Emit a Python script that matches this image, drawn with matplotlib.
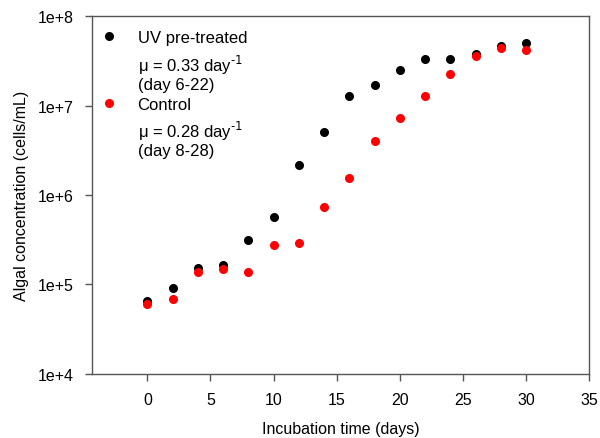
import numpy as np
from matplotlib import pyplot as plt
from matplotlib.ticker import FuncFormatter, NullLocator

plt.rcParams['font.family'] = ['Liberation Sans', 'DejaVu Sans']

days = [0, 2, 4, 6, 8, 10, 12, 14, 16, 18, 20, 22, 24, 26, 28, 30]
uv_treated = [6.5e4, 9.1e4, 1.54e5, 1.67e5, 3.12e5, 5.7e5, 2.15e6, 5.1e6,
              1.29e7, 1.71e7, 2.5e7, 3.33e7, 3.28e7, 3.73e7, 4.67e7, 5.03e7]
control = [6.1e4, 6.9e4, 1.37e5, 1.49e5, 1.39e5, 2.79e5, 2.88e5, 7.4e5,
           1.56e6, 4.0e6, 7.3e6, 1.29e7, 2.25e7, 3.57e7, 4.43e7, 4.14e7]
notes = ['μ = 0.33 day$^{\\text{-1}}$\n(day 6-22)', 'μ = 0.28 day$^{\\text{-1}}$\n(day 8-28)']

fig = plt.figure(figsize=(6, 4.39), dpi=100)
ax = fig.add_axes([0.153, 0.146, 0.829, 0.815])

ax.plot(days, uv_treated, 'o', color='black', ms=5.5, label='UV pre-treated')
ax.plot(days, control, 'o', color='red', ms=5.5, label='Control')

ax.set_yscale('log')
ax.set_ylim(1e4, 1e8)
ax.set_xlim(-4.4, 35)
ax.set_xticks(np.arange(0, 36, 5))
ax.yaxis.set_minor_locator(NullLocator())
ax.yaxis.set_major_formatter(FuncFormatter(lambda v, p: f"1e+{int(round(np.log10(v)))}"))

for s in ax.spines.values():
    s.set_color('#555555')
    s.set_linewidth(1.0)
ax.tick_params(direction='out', length=5, width=1, color='#555555', labelsize=11.5, pad=8)

ax.set_xlabel('Incubation time (days)', fontsize=11.5, labelpad=10)
ax.set_ylabel('Algal concentration (cells/mL)', fontsize=11.5, labelpad=6)

leg = ax.legend(loc='upper left', bbox_to_anchor=(0.0175, 0.962), frameon=False,
                fontsize=12, labelspacing=3.13, handletextpad=1.22,
                borderaxespad=0, borderpad=0, handlelength=1.0)

for i, txt in enumerate(notes):
    ax.text(0.092, 0.842 - i * 0.185, txt, transform=ax.transAxes, fontsize=12,
            va='center', ha='left', linespacing=1.1)

fig.savefig('out.png', dpi=100)
